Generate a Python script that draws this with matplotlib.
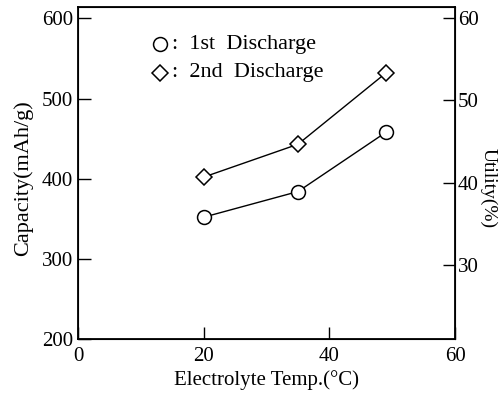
import matplotlib
matplotlib.use("Agg")
import matplotlib.pyplot as plt

# electrolyte temperature vs capacity
temp = [20, 35, 49]
first_cap = [352, 384, 458]
second_cap = [402, 443, 532]

xticks = [0, 20, 40, 60]
yticks_left = [200, 300, 400, 500, 600]
yticks_right = [30, 40, 50, 60]

plt.rcParams['font.family'] = ['Liberation Serif', 'DejaVu Serif']

fig = plt.figure(figsize=(5.03, 3.97), dpi=100)
ax = fig.add_axes([0.155, 0.146, 0.750, 0.836])

ax.plot(temp, first_cap, '-', color='black', lw=1.0, marker='o', ms=10,
        mfc='white', mec='black', mew=1.1)
ax.plot(temp, second_cap, '-', color='black', lw=1.0, marker='D', ms=8.5,
        mfc='white', mec='black', mew=1.1)

ax.set_xlim(0, 60)
ax.set_ylim(200, 614)
ax.set_xticks(xticks)
ax.set_yticks(yticks_left)
ax.tick_params(direction='in', length=9, width=1.0, labelsize=15, top=False)
ax.tick_params(axis='x', pad=6)
for s in ax.spines.values():
    s.set_linewidth(1.3)

ax.set_xlabel('Electrolyte Temp.(°C)', fontsize=15, labelpad=3)
ax.set_ylabel('Capacity(mAh/g)', fontsize=16, labelpad=6)
ax.yaxis.label.set_y(0.485)

ax2 = ax.twinx()
ax2.set_ylim(21, 61.3)
ax2.set_yticks(yticks_right)
ax2.tick_params(direction='in', length=9, width=1.0, labelsize=15, pad=2)
ax2.set_ylabel('Utility(%)', fontsize=14, rotation=270, labelpad=13)
ax2.yaxis.label.set_y(0.455)

# legend drawn as text with markers
ax.plot([13.0], [568], marker='o', ms=10, mfc='white', mec='black', mew=1.1,
        clip_on=False)
ax.plot([13.0], [532], marker='D', ms=8.5, mfc='white', mec='black', mew=1.1,
        clip_on=False)
ax.text(15.0, 568, ':  1st  Discharge', fontsize=16, va='center', ha='left')
ax.text(15.0, 532, ':  2nd  Discharge', fontsize=16, va='center', ha='left')

fig.savefig('out.png', dpi=100)
